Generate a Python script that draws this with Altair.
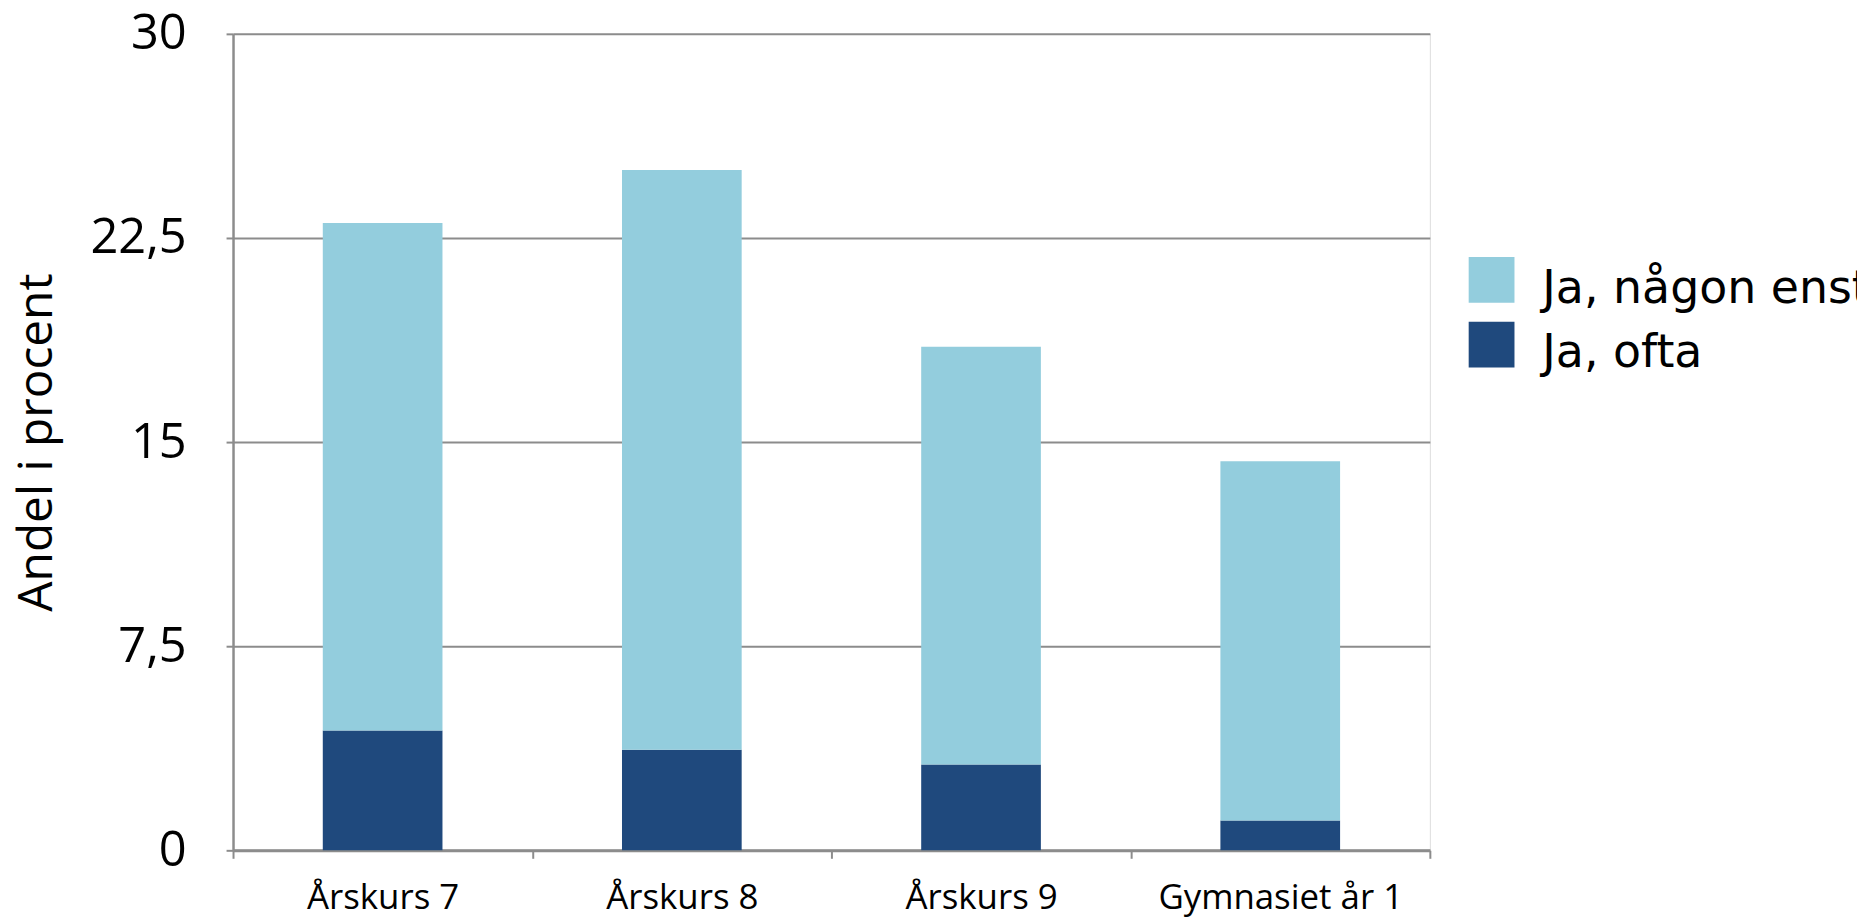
import altair as alt
import pandas as pd

categories = ["Årskurs 7", "Årskurs 8", "Årskurs 9", "Gymnasiet år 1"]
series = ["Ja, någon enstaka gång", "Ja, ofta"]
enstaka = [18.65, 21.3, 15.35, 13.2]
ofta = [4.4, 3.7, 3.15, 1.1]
y_ticks = [0, 7.5, 15, 22.5, 30]
colors = ["#93CDDD", "#1F497D"]

rows = []
for i, c in enumerate(categories):
    rows.append({"kategori": c, "serie": series[1], "andel": ofta[i], "ordning": 0})
    rows.append({"kategori": c, "serie": series[0], "andel": enstaka[i], "ordning": 1})
df = pd.DataFrame(rows)

grey = "#8c8c8c"

chart = alt.Chart(df).mark_bar(width={"band": 0.4}).encode(
    x=alt.X(
        "kategori:N",
        sort=categories,
        scale=alt.Scale(paddingInner=0, paddingOuter=0),
        axis=alt.Axis(
            title=None, labelAngle=0, tickBand="extent", grid=False,
            labelFont="Open Sans", labelFontSize=35, labelColor="black",
            labelPadding=22, tickSize=8, tickColor=grey, tickWidth=2,
            domainColor=grey, domainWidth=3, labelBaseline="top",
            labelLimit=1000,
        ),
    ),
    y=alt.Y(
        "andel:Q",
        stack="zero",
        scale=alt.Scale(domain=[0, 30], nice=False, zero=True),
        axis=alt.Axis(
            values=y_ticks,
            labelExpr="replace(format(datum.value, '.1~f'), '.', ',')",
            title="Andel i procent", titleFont="Open Sans", titleFontSize=48,
            titleFontWeight="normal", titleColor="black", titleAngle=270,
            titleX=-182, titleY=410, titleAlign="center", titleBaseline="alphabetic",
            labelFont="Open Sans", labelFontSize=49, labelColor="black",
            labelPadding=40, tickSize=7, tickColor=grey, tickWidth=2,
            grid=True, gridColor=grey, gridWidth=2,
            domainColor=grey, domainWidth=2.5,
        ),
    ),
    color=alt.Color(
        "serie:N",
        sort=series,
        scale=alt.Scale(domain=series, range=colors),
        legend=alt.Legend(
            title=None, orient="none", legendX=1241, legendY=233,
            symbolType="M-1,-1.39H1V0.61H-1Z", symbolSize=2116,
            symbolStrokeWidth=0, symbolOpacity=1,
            labelFont="DejaVu Sans", labelFontSize=46, labelColor="black",
            labelOffset=28, rowPadding=10, labelLimit=2000, padding=0,
        ),
    ),
    order=alt.Order("ordning:Q", sort="ascending"),
).properties(
    width=1202,
    height=820,
    autosize=alt.AutoSizeParams(type="none"),
    padding={"left": 226, "top": 24, "right": 429, "bottom": 66},
).configure_view(stroke=None).configure(background="white")

chart.save("out.html", embed_options={"renderer": "svg", "actions": False})
